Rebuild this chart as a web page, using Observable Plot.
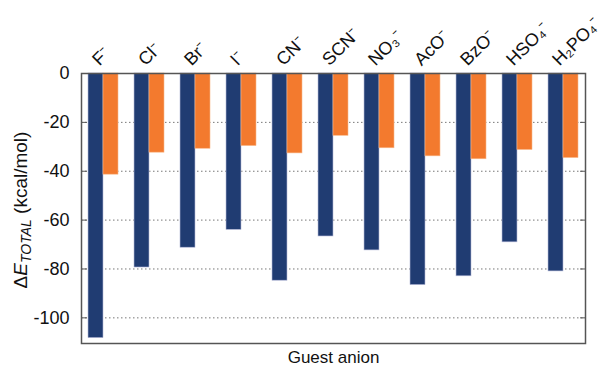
<!DOCTYPE html>
<html><head><meta charset="utf-8">
<script src="https://cdn.jsdelivr.net/npm/d3@7"></script>
<script src="https://cdn.jsdelivr.net/npm/@observablehq/plot@0.6"></script>
<style>body{margin:0;background:#fff;} svg{display:block;}</style>
</head><body><div id="chart"></div>
<script>
const anions = ["F⁻","Cl⁻","Br⁻","I⁻","CN⁻","SCN⁻","NO₃⁻","AcO⁻","BzO⁻","HSO₄⁻","H₂PO₄⁻"];
const seriesA = [-108.3,-79.4,-71.3,-64,-84.8,-66.7,-72.4,-86.6,-83,-69.1,-81];
const seriesB = [-41.4,-32.4,-30.8,-29.7,-32.7,-25.5,-30.6,-33.9,-35.1,-31.3,-34.6];
const yTicks = [0,-20,-40,-60,-80,-100];

const dataA = anions.map((a,i)=>({anion:a, value:seriesA[i]}));
const dataB = anions.map((a,i)=>({anion:a, value:seriesB[i]}));

const font = "Liberation Sans, Arial, Helvetica, sans-serif";
const plot = Plot.plot({
  width: 600, height: 372,
  marginLeft: 81, marginRight: 15, marginTop: 73, marginBottom: 29,
  style: {fontFamily: font, fontSize: "18px", color: "#111", background: "#fff"},
  x: {domain: anions, paddingInner: 0.35, paddingOuter: 0.134, label: null},
  y: {domain: [-110.5, 0], label: null},
  marks: [
    Plot.gridY(yTicks.slice(1), {stroke: "#777", strokeOpacity: 1, strokeDasharray: "1.5,2.5", strokeWidth: 1}),
    Plot.barY(dataA, {x: "anion", y: "value", fill: "#203c72", stroke: "#b4b8d8", strokeWidth: 0.6, insetRight: 15}),
    Plot.barY(dataB, {x: "anion", y: "value", fill: "#f37a2e", stroke: "#f9b88a", strokeWidth: 0.6, insetLeft: 15}),
    Plot.axisY(yTicks, {anchor: "left", tickSize: -6, text: null, stroke: "#555"}),
    Plot.axisY(yTicks, {anchor: "right", tickSize: -6, text: null, stroke: "#555"}),
    Plot.axisY(yTicks, {anchor: "left", tickSize: 0, tickPadding: 12, fontSize: 18, tickFormat: d => String(d), label: null}),
    Plot.axisX({anchor: "top", tickSize: 0, tickRotate: -45, textAnchor: "start", tickPadding: 11, dx: -8, fontSize: 18, label: null}),
    Plot.frame({stroke: "#555", strokeWidth: 1.5}),
    Plot.text(["Guest anion"], {frameAnchor: "bottom", dy: 19, fontSize: 17, fill: "#111"})
  ]
});
document.getElementById("chart").appendChild(plot);

const svg = d3.select(plot);
const lbl = svg.append("text")
  .attr("transform", "translate(27,210) rotate(-90)")
  .attr("text-anchor", "middle")
  .attr("font-family", font)
  .attr("font-size", 19)
  .attr("fill", "#111");
lbl.append("tspan").text("Δ");
lbl.append("tspan").attr("font-style", "italic").text("E");
lbl.append("tspan").attr("font-style", "italic").attr("font-size", 14).attr("dy", 4).text("TOTAL");
lbl.append("tspan").attr("dy", -4).text(" (kcal/mol)");
</script></body></html>
